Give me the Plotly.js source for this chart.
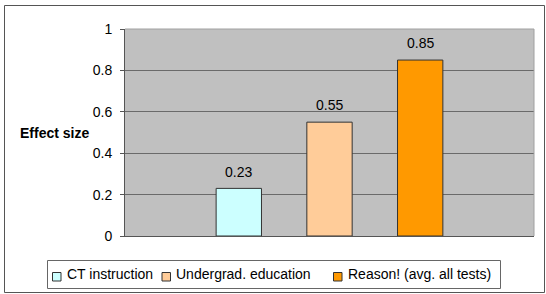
<!DOCTYPE html>
<html>
<head>
<meta charset="utf-8">
<script src="https://cdn.plot.ly/plotly-3.0.1.min.js"></script>
<style>html,body{margin:0;padding:0;background:#fff;}#chart{width:546px;height:294px;}</style>
</head>
<body>
<div id="chart"></div>
<script>
const seriesNames = ["CT instruction", "Undergrad. education", "Reason! (avg. all tests)"];
const effectSizes = [0.23, 0.55, 0.85];
const valueLabels = ["0.23", "0.55", "0.85"];
const barColors = ["#ccffff", "#ffcc99", "#ff9900"];
const yTickVals = [0, 0.2, 0.4, 0.6, 0.8, 1];
const yTickText = ["0", "0.2", "0.4", "0.6", "0.8", "1"];

const FONT = "Liberation Sans, Arial, sans-serif";

// plot area geometry (pixels) used to place paper-referenced decorations
const W = 546, H = 294, PL = 125, PR = 534, PT = 29, PB = 236;
const px = v => (v - PL) / (PR - PL);
const py = v => (PB - v) / (PB - PT);

const traces = seriesNames.map((name, i) => ({
  type: "bar",
  name: name,
  x: [name],
  y: [effectSizes[i]],
  width: 0.5,
  marker: {color: barColors[i], line: {color: "#333333", width: 1}},
  showlegend: false,
  hoverinfo: "none"
}));

const annotations = seriesNames.map((name, i) => ({
  x: name, y: effectSizes[i], xref: "x", yref: "y",
  text: valueLabels[i], showarrow: false,
  yanchor: "middle", yshift: 16.7,
  font: {family: FONT, size: 14, color: "#000"}
}));
annotations.push({
  x: px(54), y: py(132.7), xref: "paper", yref: "paper",
  text: "<b>Effect size</b>", showarrow: false,
  xanchor: "center", yanchor: "middle",
  font: {family: FONT, size: 14, color: "#000"}
});

// custom legend (Excel-style compact legend box)
const legendSquareX = [52.5, 162, 333.5];
const legendTextX = [65, 174, 345.5];
const shapes = [
  {type: "line", xref: "paper", yref: "paper", x0: 0, x1: 1, y0: 1, y1: 1, line: {color: "#a0a0a0", width: 1}, layer: "above"},
  {type: "line", xref: "paper", yref: "paper", x0: 1, x1: 1, y0: 0, y1: 1, line: {color: "#a0a0a0", width: 1}, layer: "above"},
  {type: "rect", xref: "paper", yref: "paper", x0: px(4.5), x1: px(544.5), y0: py(292.5), y1: py(5.5), line: {color: "#555555", width: 1}, fillcolor: "rgba(0,0,0,0)", layer: "above"},
  {type: "rect", xref: "paper", yref: "paper", x0: px(47.5), x1: px(500.5), y0: py(288.5), y1: py(260.5), line: {color: "#666666", width: 1}, fillcolor: "#ffffff", layer: "above"}
];
seriesNames.forEach((name, i) => {
  shapes.push({type: "rect", xref: "paper", yref: "paper",
    x0: px(legendSquareX[i]), x1: px(legendSquareX[i] + 8.5),
    y0: py(281), y1: py(272.5),
    line: {color: "#333333", width: 1}, fillcolor: barColors[i], layer: "above"});
  annotations.push({x: px(legendTextX[i]), y: py(273.5), xref: "paper", yref: "paper",
    text: name, showarrow: false, xanchor: "left", yanchor: "middle",
    font: {family: FONT, size: 14, color: "#000"}});
});

const layout = {
  width: W, height: H,
  margin: {l: PL, r: W - PR, t: PT, b: H - PB, autoexpand: false},
  paper_bgcolor: "#ffffff",
  plot_bgcolor: "#c0c0c0",
  barmode: "overlay",
  showlegend: false,
  font: {family: FONT, size: 14, color: "#000"},
  xaxis: {
    type: "category",
    range: [-1.255, 3.255],
    showticklabels: false, ticks: "", showgrid: false, zeroline: false,
    showline: true, linecolor: "#555555", linewidth: 1, fixedrange: true
  },
  yaxis: {
    range: [0, 1],
    tickvals: yTickVals, ticktext: yTickText,
    ticks: "outside", ticklen: 4, tickcolor: "#555555",
    ticklabelstandoff: 5,
    showgrid: true, gridcolor: "#6a6a6a", gridwidth: 1,
    zeroline: false,
    showline: true, linecolor: "#555555", linewidth: 1,
    tickfont: {family: FONT, size: 14, color: "#000"},
    fixedrange: true
  },
  annotations: annotations,
  shapes: shapes
};

Plotly.newPlot("chart", traces, layout, {displayModeBar: false, staticPlot: true});
</script>
</body>
</html>
